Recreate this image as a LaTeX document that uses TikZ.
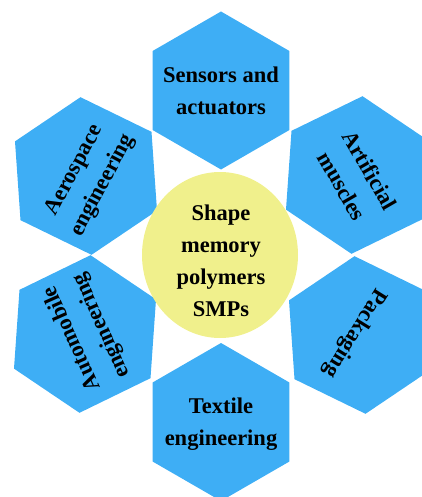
\documentclass[tikz,border=0pt]{standalone}
\usepackage{fontspec}
\setmainfont{Liberation Serif}
\definecolor{hexblue}{RGB}{62,174,245}
\definecolor{circyellow}{RGB}{240,240,140}
\begin{document}
\begin{tikzpicture}[x=1pt,y=1pt,
  hexfill/.style={fill=hexblue},
  lbl/.style={font=\bfseries\fontsize{22.5}{32}\selectfont, align=center, inner sep=0pt, text=black}]
\useasboundingbox (0,0) rectangle (422,-497);
\clip (0,0) rectangle (422,-497);
% hexagons
\foreach \cx/\cy/\r in {221/-90.5/0, 86/-176/4, 357/-175/-4, 85/-334/-4, 360/-335/4, 221/-422/0}
  \fill[hexfill, shift={(\cx,\cy)}, rotate=\r] (90:79pt) -- (150:79pt) -- (210:79pt) -- (270:79pt) -- (330:79pt) -- (30:79pt) -- cycle;
% central circle
\fill[circyellow] (220,-255) ellipse [x radius=78pt, y radius=83pt];
% labels
\node[lbl] (sens) at (221,-91) {Sensors and\\actuators};
\node[lbl, rotate=62] (aero) at (89,-178) {Aerospace\\engineering};
\node[lbl, rotate=-60] (musc) at (356,-178) {Artificial\\muscles};
\node[lbl, rotate=114] (auto) at (87,-332) {Automobile\\engineering};
\node[lbl, rotate=-122] (pack) at (355,-333) {Packaging};
\node[lbl] (text) at (221,-424.5) {Textile\\engineering};
\node[lbl] (smp) at (221,-261) {Shape\\memory\\polymers\\SMPs};
\end{tikzpicture}
\end{document}
